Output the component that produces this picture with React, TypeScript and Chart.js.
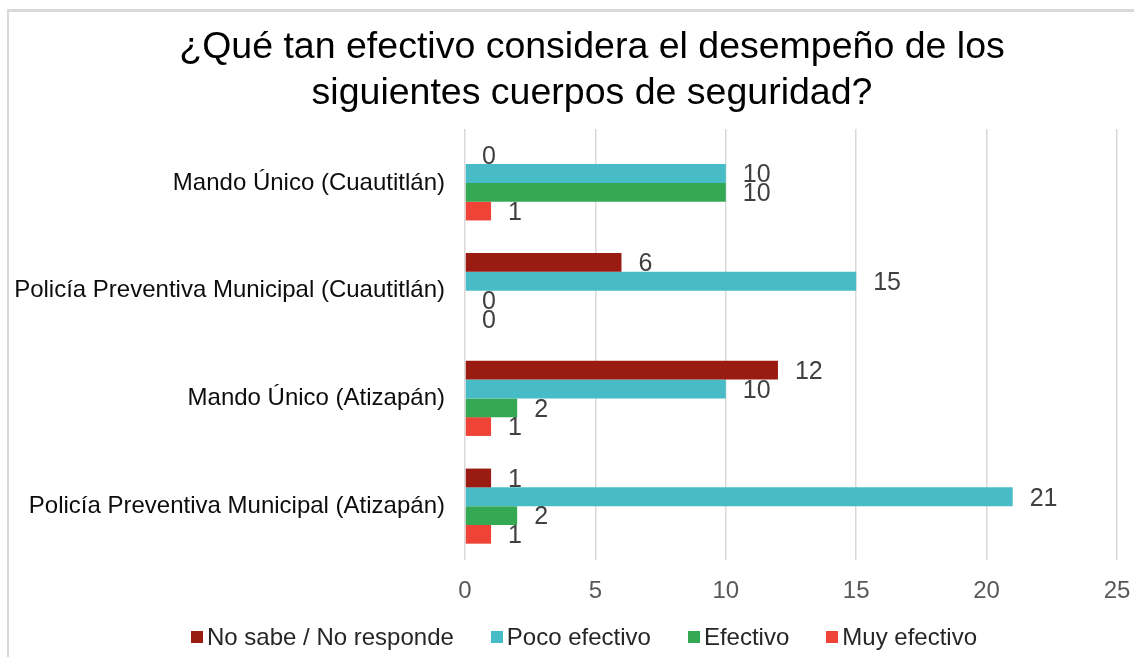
import React, { useEffect, useRef } from "react";
import { Chart, registerables } from "chart.js";

Chart.register(...registerables);

const titleLines = [
  "¿Qué tan efectivo considera el desempeño de los",
  "siguientes cuerpos de seguridad?",
];
const categories = [
  "Mando Único (Cuautitlán)",
  "Policía Preventiva Municipal (Cuautitlán)",
  "Mando Único (Atizapán)",
  "Policía Preventiva Municipal (Atizapán)",
];
const seriesNames = ["No sabe / No responde", "Poco efectivo", "Efectivo", "Muy efectivo"];
const noSabe = [0, 6, 12, 1];
const pocoEfectivo = [10, 15, 10, 21];
const efectivo = [10, 0, 2, 2];
const muyEfectivo = [1, 0, 1, 1];
const seriesColors = ["#9A1B12", "#47BCC7", "#35A853", "#EE4336"];
const xMin = 0;
const xMax = 25;
const xStep = 5;

const FONT = "'Liberation Sans', Arial, sans-serif";

const labelPlugin = {
  id: "barLabels",
  afterDatasetsDraw(chart: any) {
    const ctx = chart.ctx;
    ctx.save();
    ctx.font = `25px ${FONT}`;
    ctx.fillStyle = "#404040";
    ctx.textAlign = "left";
    ctx.textBaseline = "middle";
    chart.data.datasets.forEach((ds: any, di: number) => {
      const meta = chart.getDatasetMeta(di);
      meta.data.forEach((el: any, i: number) => {
        ctx.fillText(String(ds.data[i]), el.x + 17, el.y + 2);
      });
    });
    ctx.restore();
  },
};

export default function App() {
  const ref = useRef<HTMLCanvasElement>(null);
  useEffect(() => {
    if (!ref.current) return;
    const allSeries = [noSabe, pocoEfectivo, efectivo, muyEfectivo];
    const chart = new Chart(ref.current, {
      type: "bar",
      data: {
        labels: categories,
        datasets: allSeries.map((d, i) => ({
          label: seriesNames[i],
          data: d,
          backgroundColor: seriesColors[i],
          borderWidth: 0,
          categoryPercentage: 0.697,
          barPercentage: 1,
        })),
      },
      options: {
        indexAxis: "y",
        animation: false,
        responsive: false,
        maintainAspectRatio: false,
        layout: { padding: { left: 12, right: 17, top: 129, bottom: 47 } },
        plugins: {
          legend: { display: false },
          tooltip: { enabled: false },
          title: { display: false },
        },
        scales: {
          x: {
            min: xMin,
            max: xMax,
            afterFit: (scale: any) => {
              scale.paddingLeft = 0;
              scale.paddingRight = 0;
              scale.paddingTop = 0;
              scale.paddingBottom = 0;
              scale.height = 50;
            },
            ticks: {
              stepSize: xStep,
              color: "#595959",
              font: { size: 24, family: FONT },
              padding: 17,
            },
            grid: { color: "#d9d9d9", lineWidth: 1.5, drawTicks: false },
            border: { display: false },
          },
          y: {
            afterFit: (scale: any) => {
              scale.width = 453;
              scale.paddingTop = 0;
              scale.paddingBottom = 0;
            },
            ticks: {
              color: "#0d0d0d",
              font: { size: 24, family: FONT },
              padding: 20,
            },
            grid: { display: false, drawTicks: false },
            border: { display: false },
          },
        },
      },
      plugins: [labelPlugin],
    });
    return () => chart.destroy();
  }, []);

  const legendBox = (c: string) => ({
    display: "inline-block",
    width: 12,
    height: 12,
    background: c,
    marginRight: 4,
  });

  return (
    <div style={{ position: "fixed", left: 0, top: 0, width: 1134, height: 657, background: "#fff", overflow: "hidden" }}>
      <div
        style={{
          position: "absolute",
          left: 7,
          top: 9,
          width: 1140,
          height: 660,
          borderTop: "3px solid #d9d9d9",
          borderLeft: "2px solid #d9d9d9",
        }}
      />
      <canvas ref={ref} width={1134} height={657} style={{ position: "absolute", left: 0, top: 0, width: 1134, height: 657 }} />
      <div
        style={{
          position: "absolute",
          left: 92,
          width: 1000,
          top: 22,
          textAlign: "center",
          fontFamily: FONT,
          fontSize: 37.5,
          lineHeight: "46px",
          color: "#000",
          whiteSpace: "nowrap",
        }}
      >
        {titleLines.map((l) => (
          <div key={l}>{l}</div>
        ))}
      </div>
      <div
        style={{
          position: "absolute",
          left: 191,
          top: 622,
          display: "flex",
          alignItems: "center",
          gap: 37,
          fontFamily: FONT,
          fontSize: 24,
          color: "#262626",
          lineHeight: "30px",
          whiteSpace: "nowrap",
        }}
      >
        {seriesNames.map((n, i) => (
          <span key={n} style={{ display: "flex", alignItems: "center" }}>
            <span style={legendBox(seriesColors[i])} />
            {n}
          </span>
        ))}
      </div>
    </div>
  );
}
